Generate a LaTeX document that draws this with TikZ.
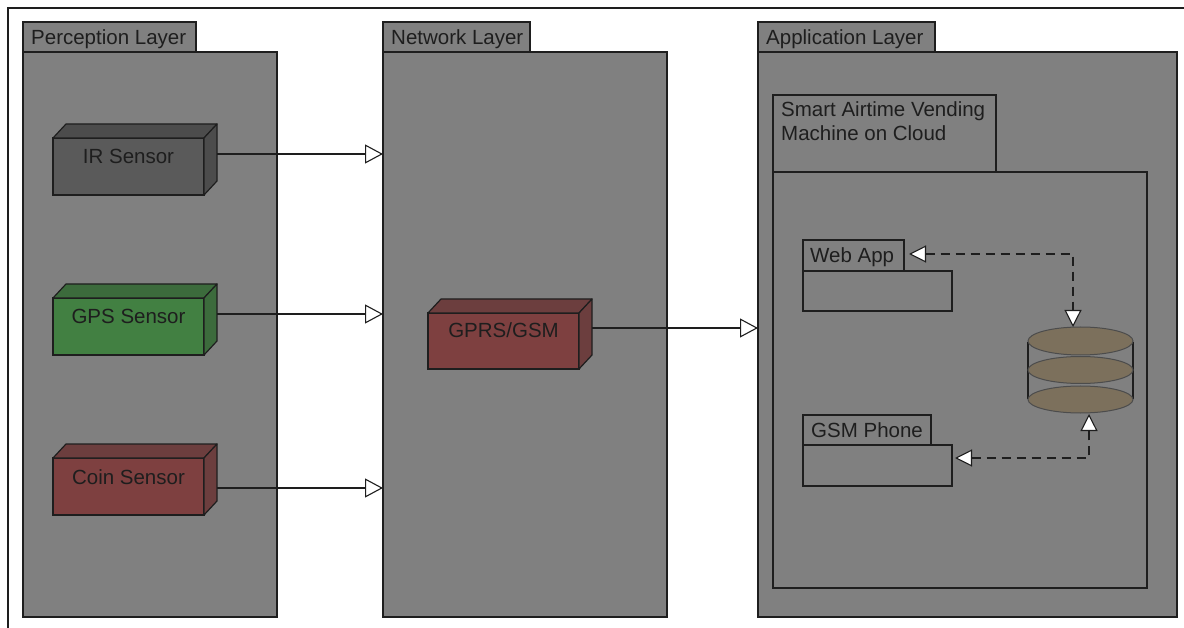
\documentclass[tikz,border=0pt]{standalone}
\usepackage{fontspec}
\setmainfont{Liberation Sans}
\usetikzlibrary{arrows.meta,calc}
\definecolor{pkgfill}{HTML}{808080}
\definecolor{linec}{HTML}{1E1E1E}
\definecolor{irF}{HTML}{5A5A5A}
\definecolor{irS}{HTML}{4C4C4C}
\definecolor{gpsF}{HTML}{428042}
\definecolor{gpsS}{HTML}{3C6B3C}
\definecolor{coinF}{HTML}{7E4040}
\definecolor{coinS}{HTML}{6C3E3E}
\definecolor{dbF}{HTML}{7C705C}
\tikzset{
  pkgbox/.style={draw=linec, fill=pkgfill, line width=1.2pt, rectangle, inner sep=0pt, outer sep=0pt, anchor=north west},
  lbl/.style={inner sep=0pt, text=linec, font=\fontsize{20.5}{24}\selectfont},
  dev/.style={draw=linec, line width=1.2pt, rectangle, inner sep=0pt, outer sep=0pt, anchor=north west, minimum width=151, minimum height=57},
  face/.style={draw=linec, line width=1.2pt, line join=round},
  flow/.style={draw=linec, line width=1.2pt, -{Triangle[length=18pt,width=19pt,fill=white,line width=1.1pt]}},
  dep/.style={draw=linec, line width=1.2pt, dash pattern=on 9pt off 6pt,
     {Triangle[length=17pt,width=17pt,fill=white,line width=1.1pt]}-{Triangle[length=17pt,width=17pt,fill=white,line width=1.1pt]}},
  dbell/.style={draw=black!70, fill=dbF, line width=1pt}
}
\newcommand{\devfaces}[3]{%
  \draw[face, fill=#2] (#1.north west) -- ++(13,-14) -- ($(#1.north east)+(13,-14)$) -- (#1.north east) -- cycle;
  \draw[face, fill=#3] (#1.north east) -- ++(13,-14) -- ($(#1.south east)+(13,-14)$) -- (#1.south east) -- cycle;
}
\begin{document}
\begin{tikzpicture}[x=1pt,y=-1pt]
\useasboundingbox (0,0) rectangle (1184,628);
\fill[white] (0,0) rectangle (1184,628);
\draw[linec, line width=1.2pt] (8,628) -- (8,8) -- (1184,8);

% Perception layer
\node[pkgbox, minimum width=254, minimum height=565] (perc) at (23,52) {};
\node[pkgbox, minimum width=173, minimum height=30, anchor=south west] (perctab) at (perc.north west) {};
\node[lbl, anchor=base west] at ($(perctab.north west)+(8,23)$) {Perception Layer};

% Network layer
\node[pkgbox, minimum width=284, minimum height=565] (net) at (383,52) {};
\node[pkgbox, minimum width=147, minimum height=30, anchor=south west] (nettab) at (net.north west) {};
\node[lbl, anchor=base west] at ($(nettab.north west)+(8,23)$) {Network Layer};

% Application layer
\node[pkgbox, minimum width=419, minimum height=565] (app) at (758,52) {};
\node[pkgbox, minimum width=177, minimum height=30, anchor=south west] (apptab) at (app.north west) {};
\node[lbl, anchor=base west] at ($(apptab.north west)+(8,23)$) {Application Layer};

% Smart Airtime Vending Machine on Cloud
\node[pkgbox, minimum width=374, minimum height=416] (cloud) at (773,172) {};
\node[pkgbox, minimum width=223, minimum height=77, anchor=south west] (cloudtab) at (cloud.north west) {};
\node[lbl, anchor=base west] at ($(cloudtab.north west)+(8,22)$) {Smart Airtime Vending};
\node[lbl, anchor=base west] at ($(cloudtab.north west)+(8,45.5)$) {Machine on Cloud};

% Web App
\node[pkgbox, minimum width=149, minimum height=40] (web) at (803,271) {};
\node[pkgbox, minimum width=101, minimum height=31, anchor=south west] (webtab) at (web.north west) {};
\node[lbl, anchor=base west] at ($(webtab.north west)+(7,23)$) {Web App};

% GSM Phone
\node[pkgbox, minimum width=149, minimum height=41] (gsm) at (803,445) {};
\node[pkgbox, minimum width=128, minimum height=30, anchor=south west] (gsmtab) at (gsm.north west) {};
\node[lbl, anchor=base west] at ($(gsmtab.north west)+(8,22)$) {GSM Phone};

% Devices
\node[dev, fill=irF] (ir) at (53,138) {};
\devfaces{ir}{irS}{irS}
\node[lbl, anchor=base] at ($(ir.north)+(0,26)$) {IR Sensor};

\node[dev, fill=gpsF] (gps) at (53,298) {};
\devfaces{gps}{gpsS}{gpsS}
\node[lbl, anchor=base] at ($(gps.north)+(0,26)$) {GPS Sensor};

\node[dev, fill=coinF] (coin) at (53,458) {};
\devfaces{coin}{coinS}{coinS}
\node[lbl, anchor=base] at ($(coin.north)+(0,26)$) {Coin Sensor};

\node[dev, fill=coinF, minimum height=56] (gprs) at (428,313) {};
\devfaces{gprs}{coinS}{coinS}
\node[lbl, anchor=base] at ($(gprs.north)+(0,25)$) {GPRS/GSM};

% Database
\node[inner sep=0pt, minimum width=105, minimum height=86] (db) at (1080.5,370) {};
\draw[linec, line width=1.1pt] (1028,342) -- (1028,399) (1133,342) -- (1133,399);
\draw[dbell] (1080.5,341) ellipse [x radius=52.5, y radius=14];
\draw[dbell] (1080.5,370) ellipse [x radius=52.5, y radius=13.5];
\draw[dbell] (1080.5,399.5) ellipse [x radius=52.5, y radius=13.5];

% Flows
\coordinate (irout) at ($(ir.east)+(13,-12.5)$);
\draw[flow] (irout) -- (irout -| net.west);
\coordinate (gpsout) at ($(gps.east)+(13,-12.5)$);
\draw[flow] (gpsout) -- (gpsout -| net.west);
\coordinate (coinout) at ($(coin.east)+(13,1.5)$);
\draw[flow] (coinout) -- (coinout -| net.west);
\coordinate (gprsout) at ($(gprs.east)+(13,-13)$);
\draw[flow] (gprsout) -- (gprsout -| app.west);

% Dependencies
\coordinate (dbtop) at (1073,327);
\coordinate (webin) at ($(webtab.east)+(5,-1.5)$);
\draw[dep] (webin) -- (webin -| dbtop) -- (dbtop);
\coordinate (dbbot) at (1089,414);
\coordinate (gsmin) at ($(gsm.east)+(3,-7.5)$);
\draw[dep] (gsmin) -- (gsmin -| dbbot) -- (dbbot);
\end{tikzpicture}
\end{document}
